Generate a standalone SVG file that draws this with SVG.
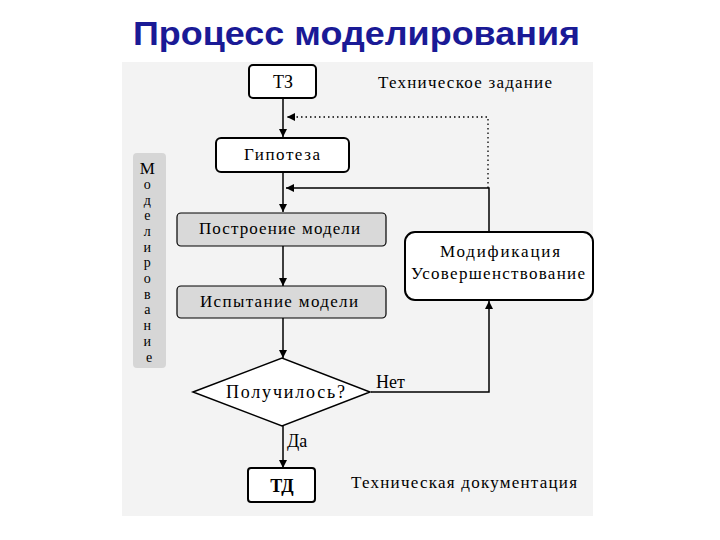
<svg xmlns="http://www.w3.org/2000/svg" width="720" height="540" viewBox="0 0 720 540">
<defs>
<marker id="ah" viewBox="0 0 10 10" refX="10" refY="5" markerWidth="8" markerHeight="9" markerUnits="userSpaceOnUse" orient="auto">
<path d="M0,0 L10,5 L0,10 z" fill="#000"/>
</marker>
</defs>
<style>
.t{font-family:"Liberation Serif","DejaVu Serif",serif;fill:#000}
.box{fill:#fff;stroke:#000;stroke-width:2}
.gbox{fill:#d9d9d9;stroke:#000;stroke-width:1.2}
.ln{fill:none;stroke:#000;stroke-width:1.5}
.dot{fill:none;stroke:#000;stroke-width:1.3;stroke-dasharray:1.5 3}
</style>
<rect width="720" height="540" fill="#fff"/>
<text x="133" y="45" font-family="Liberation Sans, Arial, sans-serif" font-weight="bold" font-size="33" fill="#1a1a96" textLength="447" lengthAdjust="spacingAndGlyphs">Процесс моделирования</text>
<rect x="122" y="62" width="471" height="454" fill="#f3f3f3"/>

<g id="label-side">
<rect x="133" y="153" width="33" height="215" rx="4" fill="#d6d6d6"/>
<text class="t" text-anchor="middle" font-size="14">
<tspan x="149" y="174" font-size="17">М</tspan>
<tspan x="149" y="189">о</tspan>
<tspan x="149" y="205">д</tspan>
<tspan x="149" y="220">е</tspan>
<tspan x="149" y="236">л</tspan>
<tspan x="149" y="252">и</tspan>
<tspan x="149" y="267">р</tspan>
<tspan x="149" y="283">о</tspan>
<tspan x="149" y="299">в</tspan>
<tspan x="149" y="314">а</tspan>
<tspan x="149" y="330">н</tspan>
<tspan x="149" y="346">и</tspan>
<tspan x="149" y="362">е</tspan>
</text>
</g>

<g id="connectors">
<line class="ln" x1="283" y1="98" x2="283" y2="137" marker-end="url(#ah)"/>
<polyline class="dot" points="488,188 488,117 287,117" marker-end="url(#ah)"/>
<line class="ln" x1="283" y1="172" x2="283" y2="212" marker-end="url(#ah)"/>
<polyline class="ln" points="489,232 489,188 286,188" marker-end="url(#ah)"/>
<line class="ln" x1="283" y1="246" x2="283" y2="286" marker-end="url(#ah)"/>
<line class="ln" x1="283" y1="318" x2="283" y2="358" marker-end="url(#ah)"/>
<polyline class="ln" points="371,392 489,392 489,301" marker-end="url(#ah)"/>
<line class="ln" x1="283" y1="426" x2="283" y2="468" marker-end="url(#ah)"/>
<text class="t" x="376" y="388" font-size="18">Нет</text>
<text class="t" x="287" y="447" font-size="18">Да</text>
</g>

<g id="tz">
<rect class="box" x="249" y="65" width="67" height="33" rx="4"/>
<text class="t" x="283" y="88" font-size="18" text-anchor="middle">ТЗ</text>
<text class="t" x="378" y="88" font-size="17" textLength="174">Техническое задание</text>
</g>

<g id="hypothesis">
<rect class="box" x="216" y="138" width="133" height="34" rx="5"/>
<text class="t" x="244" y="160" font-size="17" textLength="76">Гипотеза</text>
</g>

<g id="build">
<rect class="gbox" x="177" y="213" width="209" height="33" rx="4"/>
<text class="t" x="199" y="234" font-size="17" textLength="161">Построение модели</text>
</g>

<g id="test">
<rect class="gbox" x="177" y="286" width="209" height="32" rx="4"/>
<text class="t" x="200" y="307" font-size="17" textLength="158">Испытание модели</text>
</g>

<g id="modification">
<rect class="box" x="405" y="232" width="188" height="68" rx="10" stroke-width="1.5"/>
<text class="t" x="440" y="257" font-size="17" textLength="120">Модификация</text>
<text class="t" x="411" y="279" font-size="17" textLength="174">Усовершенствование</text>
</g>

<g id="decision">
<polygon points="193,392 282,358 370,392 282,426" fill="#fff" stroke="#000" stroke-width="1.5"/>
<text class="t" x="226" y="398" font-size="18" textLength="119">Получилось?</text>
</g>

<g id="td">
<rect class="box" x="248" y="468" width="67" height="34" rx="3"/>
<text class="t" x="282" y="492" font-size="18" font-weight="bold" text-anchor="middle">ТД</text>
<text class="t" x="351" y="488" font-size="17" textLength="226">Техническая документация</text>
</g>
</svg>
